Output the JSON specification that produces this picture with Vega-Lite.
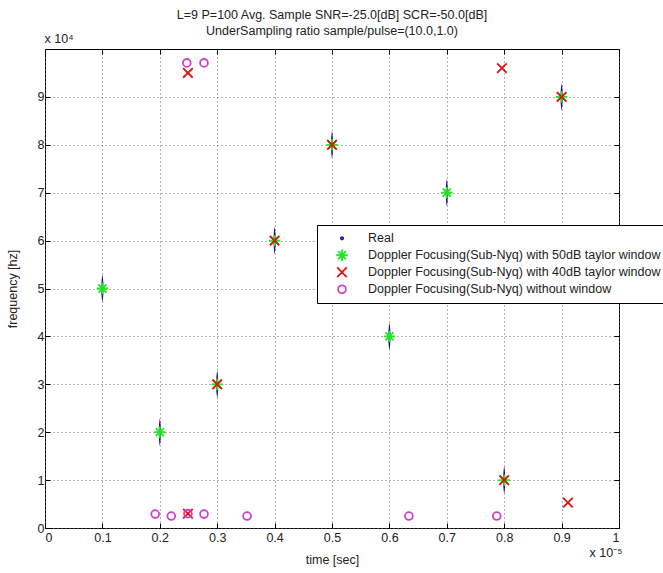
{
  "$schema": "https://vega.github.io/schema/vega-lite/v6.json",
  "width": 574,
  "height": 479,
  "autosize": {"type": "none"},
  "padding": {"left": 45, "top": 49, "right": 44, "bottom": 45},
  "background": "white",
  "title": {
    "text": ["L=9 P=100 Avg. Sample SNR=-25.0[dB] SCR=-50.0[dB]", "UnderSampling ratio sample/pulse=(10.0,1.0)"],
    "fontSize": 12.5,
    "fontWeight": "normal",
    "font": "Liberation Sans",
    "color": "#222222",
    "lineHeight": 16,
    "offset": -5,
    "anchor": "middle"
  },
  "config": {
    "view": {"stroke": "black", "strokeWidth": 1},
    "axis": {
      "labelFont": "Liberation Sans",
      "titleFont": "Liberation Sans",
      "labelFontSize": 12.5,
      "titleFontSize": 12.5,
      "titleFontWeight": "normal",
      "labelColor": "#222222",
      "titleColor": "#222222",
      "tickColor": "black",
      "domain": false,
      "gridColor": "#666666",
      "gridDash": [1, 3],
      "gridOpacity": 1
    }
  },
  "data": {
    "values": [
      {"series": "Real", "t": 0.1, "f": 5},
      {"series": "Real", "t": 0.2, "f": 2},
      {"series": "Real", "t": 0.3, "f": 3},
      {"series": "Real", "t": 0.4, "f": 6},
      {"series": "Real", "t": 0.5, "f": 8},
      {"series": "Real", "t": 0.6, "f": 4},
      {"series": "Real", "t": 0.7, "f": 7},
      {"series": "Real", "t": 0.8, "f": 1},
      {"series": "Real", "t": 0.9, "f": 9},
      {"series": "Doppler Focusing(Sub-Nyq) with 50dB taylor window", "t": 0.1, "f": 5},
      {"series": "Doppler Focusing(Sub-Nyq) with 50dB taylor window", "t": 0.2, "f": 2},
      {"series": "Doppler Focusing(Sub-Nyq) with 50dB taylor window", "t": 0.3, "f": 3},
      {"series": "Doppler Focusing(Sub-Nyq) with 50dB taylor window", "t": 0.4, "f": 6},
      {"series": "Doppler Focusing(Sub-Nyq) with 50dB taylor window", "t": 0.5, "f": 8},
      {"series": "Doppler Focusing(Sub-Nyq) with 50dB taylor window", "t": 0.6, "f": 4},
      {"series": "Doppler Focusing(Sub-Nyq) with 50dB taylor window", "t": 0.7, "f": 7},
      {"series": "Doppler Focusing(Sub-Nyq) with 50dB taylor window", "t": 0.8, "f": 1},
      {"series": "Doppler Focusing(Sub-Nyq) with 50dB taylor window", "t": 0.9, "f": 9},
      {"series": "Doppler Focusing(Sub-Nyq) with 40dB taylor window", "t": 0.249, "f": 9.5},
      {"series": "Doppler Focusing(Sub-Nyq) with 40dB taylor window", "t": 0.3, "f": 3},
      {"series": "Doppler Focusing(Sub-Nyq) with 40dB taylor window", "t": 0.4, "f": 6},
      {"series": "Doppler Focusing(Sub-Nyq) with 40dB taylor window", "t": 0.5, "f": 8},
      {"series": "Doppler Focusing(Sub-Nyq) with 40dB taylor window", "t": 0.796, "f": 9.6},
      {"series": "Doppler Focusing(Sub-Nyq) with 40dB taylor window", "t": 0.8, "f": 1},
      {"series": "Doppler Focusing(Sub-Nyq) with 40dB taylor window", "t": 0.9, "f": 9},
      {"series": "Doppler Focusing(Sub-Nyq) with 40dB taylor window", "t": 0.249, "f": 0.3},
      {"series": "Doppler Focusing(Sub-Nyq) with 40dB taylor window", "t": 0.911, "f": 0.53},
      {"series": "Doppler Focusing(Sub-Nyq) without window", "t": 0.247, "f": 9.71},
      {"series": "Doppler Focusing(Sub-Nyq) without window", "t": 0.277, "f": 9.71},
      {"series": "Doppler Focusing(Sub-Nyq) without window", "t": 0.192, "f": 0.29},
      {"series": "Doppler Focusing(Sub-Nyq) without window", "t": 0.22, "f": 0.25},
      {"series": "Doppler Focusing(Sub-Nyq) without window", "t": 0.249, "f": 0.3},
      {"series": "Doppler Focusing(Sub-Nyq) without window", "t": 0.277, "f": 0.29},
      {"series": "Doppler Focusing(Sub-Nyq) without window", "t": 0.352, "f": 0.25},
      {"series": "Doppler Focusing(Sub-Nyq) without window", "t": 0.634, "f": 0.25},
      {"series": "Doppler Focusing(Sub-Nyq) without window", "t": 0.787, "f": 0.25}
    ]
  },
  "resolve": {"axis": {"x": "independent", "y": "independent"}},
  "layer": [
    {
      "transform": [{"filter": "datum.series === 'Real'"}],
      "mark": {
        "type": "point",
        "shape": "M0,-1C0.1,-0.5,0.1,0.5,0,1C-0.1,0.5,-0.1,-0.5,0,-1Z",
        "filled": true,
        "size": 784,
        "color": "#16169c",
        "opacity": 1
      },
      "encoding": {
        "x": {
          "field": "t",
          "type": "quantitative",
          "scale": {"domain": [0, 1], "nice": false},
          "axis": {
            "orient": "bottom",
            "values": [0, 0.1, 0.2, 0.3, 0.4, 0.5, 0.6, 0.7, 0.8, 0.9, 1],
            "format": ".1~f",
            "grid": true,
            "tickSize": -5,
            "labelPadding": 8,
            "title": "time [sec]",
            "titlePadding": 10
          }
        },
        "y": {
          "field": "f",
          "type": "quantitative",
          "scale": {"domain": [0, 10], "nice": false},
          "axis": {
            "orient": "left",
            "values": [0, 1, 2, 3, 4, 5, 6, 7, 8, 9],
            "format": "d",
            "grid": true,
            "tickSize": -5,
            "labelPadding": 6,
            "title": "frequency [hz]",
            "titlePadding": 18
          }
        }
      }
    },
    {
      "mark": {"type": "point", "filled": false, "size": 144, "strokeWidth": 1.8, "opacity": 1},
      "encoding": {
        "x": {
          "field": "t",
          "type": "quantitative",
          "axis": {
            "orient": "top",
            "values": [0, 0.1, 0.2, 0.3, 0.4, 0.5, 0.6, 0.7, 0.8, 0.9, 1],
            "labels": false,
            "grid": false,
            "tickSize": -5,
            "title": "x 10⁴",
            "titleAnchor": "start",
            "titleAlign": "left",
            "titleX": -1,
            "titleY": -7,
            "titleBaseline": "alphabetic",
            "titlePadding": 0
          }
        },
        "y": {
          "field": "f",
          "type": "quantitative",
          "axis": {
            "orient": "right",
            "values": [0, 1, 2, 3, 4, 5, 6, 7, 8, 9, 10],
            "labels": false,
            "grid": false,
            "tickSize": -5,
            "title": "x 10⁻⁵",
            "titleAngle": 0,
            "titleAlign": "left",
            "titleBaseline": "alphabetic",
            "titleX": -30,
            "titleY": 507
          }
        },
        "color": {
          "field": "series",
          "type": "nominal",
          "scale": {
            "domain": ["Real", "Doppler Focusing(Sub-Nyq) with 50dB taylor window", "Doppler Focusing(Sub-Nyq) with 40dB taylor window", "Doppler Focusing(Sub-Nyq) without window"],
            "range": ["#1c1cb4", "#22e622", "#e01010", "#d040d0"]
          },
          "legend": {
            "orient": "none",
            "legendX": 272,
            "legendY": 176,
            "title": null,
            "strokeColor": "black",
            "fillColor": "white",
            "padding": 5,
            "symbolOffset": 13,
            "labelOffset": 19,
            "labelFont": "Liberation Sans",
            "labelFontSize": 12.5,
            "labelColor": "#222222",
            "labelLimit": 400,
            "rowPadding": 0,
            "clipHeight": 16.5,
            "symbolSize": 144,
            "symbolStrokeWidth": 1.8
          }
        },
        "shape": {
          "field": "series",
          "type": "nominal",
          "scale": {
            "domain": ["Real", "Doppler Focusing(Sub-Nyq) with 50dB taylor window", "Doppler Focusing(Sub-Nyq) with 40dB taylor window", "Doppler Focusing(Sub-Nyq) without window"],
            "range": [
              "M-0.2,0A0.2,0.2,0,1,1,0.2,0A0.2,0.2,0,1,1,-0.2,0Z",
              "M0,-0.95L0,0.95M-0.95,0L0.95,0M-0.67,-0.67L0.67,0.67M-0.67,0.67L0.67,-0.67",
              "M-0.8,-0.8L0.8,0.8M-0.8,0.8L0.8,-0.8",
              "M-0.65,0A0.65,0.65,0,1,1,0.65,0A0.65,0.65,0,1,1,-0.65,0Z"
            ]
          },
          "legend": {
            "orient": "none",
            "legendX": 272,
            "legendY": 176,
            "title": null,
            "strokeColor": "black",
            "fillColor": "white",
            "padding": 5,
            "symbolOffset": 13,
            "labelOffset": 19,
            "labelFont": "Liberation Sans",
            "labelFontSize": 12.5,
            "labelColor": "#222222",
            "labelLimit": 400,
            "rowPadding": 0,
            "clipHeight": 16.5,
            "symbolSize": 144,
            "symbolStrokeWidth": 1.8
          }
        }
      }
    }
  ]
}
